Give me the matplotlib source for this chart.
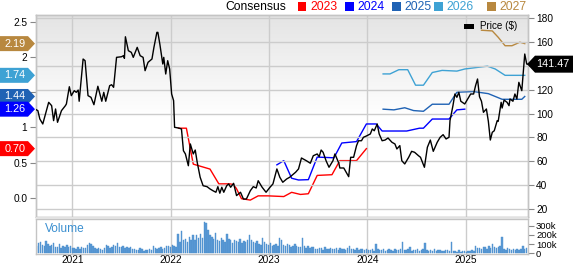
import matplotlib
matplotlib.use("Agg")
import matplotlib.pyplot as plt
import numpy as np
import pandas as pd
from matplotlib.patches import Polygon, Rectangle
from matplotlib.colors import LinearSegmentedColormap

plt.rcParams['font.family'] = ['Liberation Sans', 'DejaVu Sans']

# ---------------- data ----------------
# price (right axis), time in decimal years
price_t = [2020.62, 2020.65, 2020.67, 2020.70, 2020.76, 2020.79, 2020.81, 2020.83, 2020.85, 2020.89,
           2020.93, 2020.94, 2020.97, 2020.99, 2021.02, 2021.04, 2021.06, 2021.07, 2021.11, 2021.13,
           2021.16, 2021.19, 2021.22, 2021.26, 2021.30, 2021.32, 2021.34, 2021.38, 2021.40, 2021.42,
           2021.45, 2021.50, 2021.52, 2021.53, 2021.54, 2021.57, 2021.60, 2021.62, 2021.66, 2021.69,
           2021.72, 2021.74, 2021.77, 2021.81, 2021.83, 2021.86, 2021.87, 2021.89, 2021.92, 2021.93,
           2021.95, 2021.97, 2021.99, 2022.01, 2022.03, 2022.04, 2022.08, 2022.11, 2022.13, 2022.15,
           2022.18, 2022.20, 2022.23, 2022.25, 2022.27, 2022.30, 2022.33, 2022.37, 2022.40, 2022.43,
           2022.46, 2022.48, 2022.50, 2022.52, 2022.54, 2022.57, 2022.59, 2022.61, 2022.64, 2022.67,
           2022.71, 2022.74, 2022.77, 2022.81, 2022.84, 2022.87, 2022.89, 2022.93, 2022.97, 2023.01,
           2023.04, 2023.08, 2023.11, 2023.14, 2023.18, 2023.21, 2023.27, 2023.30, 2023.33, 2023.38,
           2023.42, 2023.45, 2023.49, 2023.51, 2023.53, 2023.55, 2023.58, 2023.61, 2023.65, 2023.67,
           2023.71, 2023.72, 2023.76, 2023.81, 2023.83, 2023.86, 2023.89, 2023.91, 2023.94, 2023.96,
           2023.99, 2024.03, 2024.05, 2024.07, 2024.10, 2024.12, 2024.15, 2024.18, 2024.21, 2024.25,
           2024.28, 2024.30, 2024.33, 2024.35, 2024.38, 2024.42, 2024.45, 2024.48, 2024.52, 2024.54,
           2024.58, 2024.61, 2024.64, 2024.67, 2024.71, 2024.74, 2024.77, 2024.80, 2024.83, 2024.84,
           2024.87, 2024.89, 2024.91, 2024.93, 2024.95, 2024.99, 2025.01, 2025.05, 2025.08, 2025.10,
           2025.12, 2025.14, 2025.16, 2025.18, 2025.21, 2025.23, 2025.25, 2025.27, 2025.29, 2025.32,
           2025.33, 2025.36, 2025.37, 2025.39, 2025.42, 2025.44, 2025.45, 2025.48, 2025.50, 2025.52,
           2025.54, 2025.57, 2025.60, 2025.62, 2025.63]
price_v = [103.8, 102.4, 95.4, 91.2, 109.4, 106.6, 94.0, 103.8, 92.6, 102.4,
           106.6, 108.0, 122.5, 115.0, 119.2, 117.8, 119.7, 110.3, 145.8, 144.4,
           115.0, 113.6, 107.4, 122.9, 110.3, 117.8, 110.3, 123.4, 124.2, 122.0,
           147.2, 147.7, 148.6, 146.4, 164.5, 152.8, 151.4, 147.2, 155.6, 148.6,
           147.2, 136.0, 143.0, 145.8, 155.6, 168.2, 168.2, 158.4, 141.6, 147.2,
           133.2, 144.4, 137.4, 116.4, 110.8, 88.4, 87.8, 87.0, 68.7, 66.0,
           56.1, 74.4, 66.0, 69.3, 59.0, 46.4, 39.3, 38.5, 36.6, 35.1,
           33.8, 38.5, 33.0, 38.0, 33.8, 39.3, 40.8, 38.0, 41.3, 31.0,
           33.8, 28.1, 28.1, 35.1, 38.5, 37.4, 43.5, 38.0, 33.8, 38.0,
           40.8, 53.4, 46.4, 42.2, 45.0, 46.4, 50.6, 53.4, 62.6, 60.3,
           58.2, 64.5, 66.0, 63.7, 69.3, 67.4, 60.3, 54.8, 60.3, 66.0,
           58.2, 54.2, 54.2, 46.9, 63.2, 63.2, 73.0, 77.1, 77.1, 80.0,
           81.1, 82.8, 87.0, 85.5, 91.2, 82.8, 77.1, 77.7, 79.4, 75.8,
           74.4, 70.2, 73.0, 60.3, 57.6, 63.2, 68.2, 67.4, 64.5, 63.2,
           54.8, 71.6, 77.7, 68.2, 75.8, 80.0, 82.2, 78.6, 80.0, 94.0,
           106.6, 116.4, 113.6, 117.8, 110.3, 108.0, 110.8, 116.4, 116.4, 123.4,
           129.0, 114.1, 110.3, 101.0, 103.8, 93.4, 77.7, 84.2, 85.5, 94.0,
           93.4, 109.4, 104.6, 111.3, 109.4, 106.6, 112.2, 110.3, 116.4, 112.2,
           126.2, 119.2, 150.0, 141.6, 141.47]

# consensus EPS estimates (left axis)
eps23_t = [2022.08, 2022.16, 2022.23, 2022.40, 2022.49, 2022.60, 2022.64, 2022.67, 2022.72, 2022.81,
           2022.89, 2022.99, 2023.15, 2023.23, 2023.32, 2023.40, 2023.49, 2023.64, 2023.72, 2023.89, 2023.99]
eps23_v = [0.99, 0.99, 0.48, 0.41, 0.20, 0.20, 0.19, 0.13, -0.01, -0.03,
           0.03, 0.03, 0.02, 0.08, 0.05, 0.06, 0.32, 0.33, 0.53, 0.53, 0.70]
eps24_t = [2023.08, 2023.15, 2023.23, 2023.30, 2023.40, 2023.49, 2023.66, 2023.74, 2023.89, 2023.99,
           2024.09, 2024.15, 2024.40, 2024.53, 2024.57, 2024.66, 2024.83, 2024.91, 2024.99]
eps24_v = [0.47, 0.53, 0.28, 0.255, 0.26, 0.58, 0.57, 0.78, 0.80, 1.05,
           1.05, 0.95, 0.95, 0.99, 0.99, 1.12, 1.12, 1.25, 1.26]
eps25_t = [2024.16, 2024.27, 2024.38, 2024.47, 2024.57, 2024.66, 2024.83, 2024.91, 2025.08, 2025.23,
           2025.37, 2025.57, 2025.60]
eps25_v = [1.26, 1.25, 1.28, 1.24, 1.23, 1.33, 1.33, 1.50, 1.51, 1.48,
           1.40, 1.40, 1.44]
eps26_t = [2024.16, 2024.23, 2024.32, 2024.41, 2024.49, 2024.57, 2024.66, 2024.76, 2024.91, 2024.99,
           2025.22, 2025.30, 2025.40, 2025.60]
eps26_v = [1.76, 1.76, 1.82, 1.82, 1.60, 1.60, 1.78, 1.81, 1.80, 1.83,
           1.87, 1.83, 1.74, 1.74]
eps27_t = [2025.16, 2025.27, 2025.33, 2025.40, 2025.47, 2025.55, 2025.60]
eps27_v = [2.38, 2.37, 2.28, 2.16, 2.16, 2.21, 2.19]

series_names = ['2023', '2024', '2025', '2026', '2027']
series_colors = ['#ff0000', '#0000ff', '#1f62b4', '#3ea2d4', '#b8883f']
last_eps = ['0.70', '1.26', '1.44', '1.74', '2.19']
last_price = '141.47'

# weekly volume (thousands)
volume_k = [85, 110, 125, 95, 80, 130, 100,
            75, 90, 110, 65, 70, 100, 60, 85, 70, 95, 65, 75,
            55, 60, 45, 70, 50, 65, 55, 60,
            95, 110, 100, 80,
            55, 45, 60, 50, 40, 55,
            90, 85, 60, 70, 95, 75, 110,
            70, 65, 75, 60, 70, 55, 65,
            45, 50, 40, 35, 55, 45, 30, 40, 35, 50, 40,
            80, 60, 45, 55, 70, 50, 60,
            75, 85, 65, 90, 80, 70,
            210, 120, 245, 140, 160, 125,
            180, 150, 195, 140, 200, 165, 215, 170,
            340, 330, 250, 200, 180, 160,
            225, 150, 130, 165, 140, 125, 215, 155,
            140, 115, 150, 130, 120, 160, 110, 135, 125, 150,
            195, 140, 120, 110, 130, 100, 95,
            165, 120, 100,
            90, 110, 75, 95, 100, 85,
            165, 150, 95, 80, 105, 90, 70, 85, 100, 75, 65,
            70, 165, 80, 60, 75, 55, 65, 70, 50, 45, 60, 55, 40, 65, 50, 45, 55,
            50, 45, 60, 40, 55, 50, 45, 40, 60, 80, 50, 45, 35, 55, 40, 45, 50, 40,
            45, 35, 40, 50, 30, 100, 45, 40, 35, 50, 30, 40, 45, 35, 30, 50, 40, 35, 45,
            125,
            40, 35, 45, 70, 30, 40, 35, 50, 30, 40, 45,
            115,
            40, 30, 35, 25, 45, 30, 40, 35, 25, 30, 40, 35, 30,
            125,
            30, 25, 20, 35, 15, 30, 25, 20, 30, 25, 35, 30,
            78,
            55, 60, 45, 70, 65, 50, 75, 60,
            100,
            70, 55, 65, 80,
            174,
            50, 40, 55, 45, 35, 50, 40, 45, 35, 50,
            78,
            45, 60]
vol_dates = pd.date_range('2020-08-21', periods=len(volume_k), freq='W-FRI')
vol_t = vol_dates.year + (vol_dates.dayofyear - 1) / 365.25

year_ticks = [2021, 2022, 2023, 2024, 2025]
price_ticks = [20, 40, 60, 80, 100, 120, 140, 160, 180]
price_ticklabels = ['20', '40', '60', '80', '100', '120', '', '160', '180']   # 140 is hidden under the badge
eps_ticks = [0.0, 0.5, 1.0, 1.5, 2.0, 2.5]
eps_ticklabels = ['0.0', '0.5', '1', '', '2', '2.5']                          # 1.5 is hidden under the badges
vol_ticks = [0, 100, 200, 300]
vol_ticklabels = ['0', '100k', '200k', '300k']

# ---------------- layout ----------------
W, H = 573, 264
fig = plt.figure(figsize=(W / 100, H / 100), dpi=100)
fig.patch.set_facecolor('white')

L, R = 35.5, 527.7
top_main, bot_main = 15, 217
top_vol, bot_vol = 219, 254

ax = fig.add_axes([L / W, 1 - bot_main / H, (R - L) / W, (bot_main - top_main) / H])
ax2 = ax.twinx()
axv = fig.add_axes([L / W, 1 - bot_vol / H, (R - L) / W, (bot_vol - top_vol) / H])

XMIN, XMAX = 2020.626, 2025.63
grid_c = '#cccccc'
spine_c = '#c4c4c4'
tick_c = '#888888'
FS = 7.3

# gradient background
grad = np.linspace(0, 1, 256).reshape(-1, 1)
cmap = LinearSegmentedColormap.from_list('g', [(0, '#ffffff'), (0.5, '#ffffff'), (1.0, '#e4e4e4')])
ax.imshow(grad, extent=[XMIN, XMAX, -0.27, 2.596], aspect='auto', cmap=cmap, origin='lower', zorder=0)
ax.set_xlim(XMIN, XMAX)
ax.set_ylim(-0.27, 2.596)

# grid lines
for p in price_ticks:
    ax2.axhline(p, color=grid_c, lw=1.0, zorder=0.5)
for yv in year_ticks:
    ax.axvline(yv, color=grid_c, lw=1.0, zorder=0.5)
    axv.axvline(yv, color=grid_c, lw=1.0, zorder=0.5)

# EPS lines
eps_t = [eps23_t, eps24_t, eps25_t, eps26_t, eps27_t]
eps_v = [eps23_v, eps24_v, eps25_v, eps26_v, eps27_v]
for t, v, c in zip(eps_t, eps_v, series_colors):
    ax.plot(t, v, color=c, lw=1.0, zorder=3)

# price line
ax2.plot(price_t, price_v, color='black', lw=1.0, zorder=4)
ax2.set_ylim(13.0, 182.8)
ax2.set_xlim(XMIN, XMAX)

# axes styling
ax.set_yticks(eps_ticks)
ax.set_yticklabels(eps_ticklabels)
ax.tick_params(axis='y', left=True, length=4, color=tick_c, labelsize=FS, pad=2)
ax.set_xticks([])
ax2.set_yticks(price_ticks)
ax2.set_yticklabels(price_ticklabels)
ax2.tick_params(axis='y', right=True, length=4, color=tick_c, labelsize=FS, pad=2)
for a in (ax, ax2, axv):
    for s in a.spines.values():
        s.set_color(spine_c)
        s.set_linewidth(1.0)

# volume
axv.bar(vol_t, volume_k, width=0.75 / 52.18, color='#5b9bd5', edgecolor='#4a8ccc', linewidth=0.3, zorder=2)
axv.set_xlim(XMIN, XMAX)
axv.set_ylim(-7, 373)
axv.yaxis.tick_right()
axv.set_yticks(vol_ticks)
axv.set_yticklabels(vol_ticklabels)
axv.tick_params(axis='y', length=4, color=tick_c, labelsize=FS - 0.5, pad=2)
axv.set_xticks(year_ticks)
axv.set_xticklabels([str(y) for y in year_ticks])
axv.tick_params(axis='x', length=0, labelsize=FS, pad=1)
axv.text(0.019, 0.72, 'Volume', transform=axv.transAxes, color='#3a8fd0', fontsize=8.6, va='center', ha='left')

# gray separator band between panels
fig.patches.append(Rectangle((L / W, 1 - top_vol / H), (R - L) / W, (top_vol - bot_main) / H,
                             transform=fig.transFigure, facecolor='#e2e2e2', edgecolor='none'))

# ---------------- badges ----------------
def to_fig(px, py):
    return (px / W, py / H)

fig.canvas.draw()
eps_last = [v[-1] for v in eps_v]
order = [4, 3, 2, 1, 0]
for i in order:
    val = eps_last[i]
    ypx = ax.transData.transform((XMIN, val))[1]
    h = 7.5
    pts = [to_fig(0, ypx - h), to_fig(28, ypx - h), to_fig(35, ypx), to_fig(28, ypx + h), to_fig(0, ypx + h)]
    fig.add_artist(Polygon(pts, closed=True, transform=fig.transFigure, facecolor=series_colors[i],
                           edgecolor='none', zorder=10))
    fig.text(15 / W, ypx / H, last_eps[i], color='white', fontsize=7.8, ha='center', va='center', zorder=11)

yp = ax2.transData.transform((XMAX, price_v[-1]))[1]
h = 8.5
pts = [to_fig(527, yp), to_fig(535, yp - h), to_fig(573, yp - h), to_fig(573, yp + h), to_fig(535, yp + h)]
fig.add_artist(Polygon(pts, closed=True, transform=fig.transFigure, facecolor='black', edgecolor='none', zorder=10))
fig.text(553 / W, yp / H, last_price, color='white', fontsize=7.8, ha='center', va='center', zorder=11)

# ---------------- top legend ----------------
ytop = 1 - 6.5 / H
fig.text(225 / W, ytop, 'Consensus', color='black', fontsize=8.7, ha='left', va='center')
sq_x = [297.5, 345, 392, 434, 487]
for sx, name, c in zip(sq_x, series_names, series_colors):
    fig.patches.append(Rectangle((sx / W, 1 - 10.5 / H), 8.5 / W, 8.5 / H, transform=fig.transFigure,
                                 facecolor=c, edgecolor='none'))
    fig.text((sx + 12.5) / W, ytop, name, color=c, fontsize=8.7, ha='left', va='center')

# price legend inside plot
fig.add_artist(Rectangle((464 / W, 1 - 28.5 / H), 9.5 / W, 5 / H, transform=fig.transFigure,
                         facecolor='black', edgecolor='none', zorder=10))
fig.text(480 / W, 1 - 26 / H, 'Price ($)', color='black', fontsize=7.1, ha='left', va='center', zorder=11)

fig.savefig('out.png', dpi=100)
